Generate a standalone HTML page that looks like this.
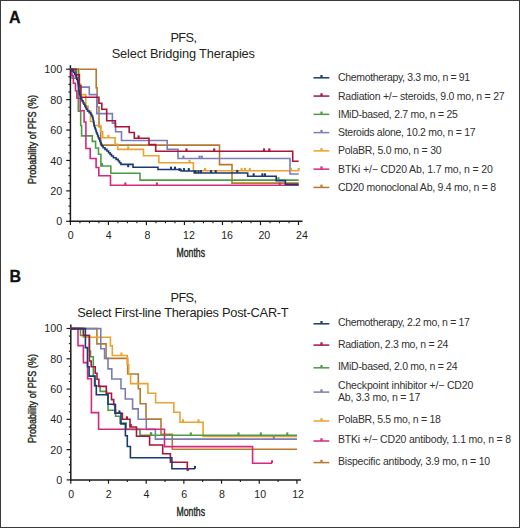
<!DOCTYPE html><html><head><meta charset="utf-8"><style>html,body{margin:0;padding:0;background:#fff;width:520px;height:528px;overflow:hidden}</style></head><body><svg width="520" height="528" viewBox="0 0 520 528" style="display:block;font-family:'Liberation Sans', sans-serif"><rect x="0.5" y="0.5" width="519" height="527" fill="#fff" stroke="#3a3a3a" stroke-width="1"/><text x="9.0" y="23.0" font-size="16" text-anchor="start" font-weight="bold" fill="#111" stroke="#111" stroke-width="0.3">A</text><text x="170.4" y="41.9" font-size="12.8" text-anchor="start" font-weight="normal" fill="#231f20" textLength="26.6" lengthAdjust="spacing" >PFS,</text><text x="111.7" y="57.7" font-size="12.8" text-anchor="start" font-weight="normal" fill="#231f20" textLength="143.3" lengthAdjust="spacing" >Select Bridging Therapies</text><text transform="translate(36.3,139.4) rotate(-90)" x="0" y="0" font-size="11.6" text-anchor="middle" fill="#231f20" textLength="89" lengthAdjust="spacingAndGlyphs" stroke="#231f20" stroke-width="0.4">Probability of PFS (%)</text><line x1="70.4" y1="65.2" x2="70.4" y2="222.0" stroke="#1a1a1a" stroke-width="1.5"/><line x1="69.7" y1="221.3" x2="302.5" y2="221.3" stroke="#1a1a1a" stroke-width="1.5"/><line x1="66.2" y1="221.30" x2="70.4" y2="221.30" stroke="#1a1a1a" stroke-width="1.2"/><text x="62.3" y="225.40" font-size="10.8" text-anchor="end" font-weight="normal" fill="#231f20" >0</text><line x1="68.4" y1="213.70" x2="70.4" y2="213.70" stroke="#1a1a1a" stroke-width="1.1"/><line x1="68.4" y1="206.09" x2="70.4" y2="206.09" stroke="#1a1a1a" stroke-width="1.1"/><line x1="68.4" y1="198.49" x2="70.4" y2="198.49" stroke="#1a1a1a" stroke-width="1.1"/><line x1="66.2" y1="190.88" x2="70.4" y2="190.88" stroke="#1a1a1a" stroke-width="1.2"/><text x="62.3" y="194.98" font-size="10.8" text-anchor="end" font-weight="normal" fill="#231f20" >20</text><line x1="68.4" y1="183.28" x2="70.4" y2="183.28" stroke="#1a1a1a" stroke-width="1.1"/><line x1="68.4" y1="175.67" x2="70.4" y2="175.67" stroke="#1a1a1a" stroke-width="1.1"/><line x1="68.4" y1="168.06" x2="70.4" y2="168.06" stroke="#1a1a1a" stroke-width="1.1"/><line x1="66.2" y1="160.46" x2="70.4" y2="160.46" stroke="#1a1a1a" stroke-width="1.2"/><text x="62.3" y="164.56" font-size="10.8" text-anchor="end" font-weight="normal" fill="#231f20" >40</text><line x1="68.4" y1="152.86" x2="70.4" y2="152.86" stroke="#1a1a1a" stroke-width="1.1"/><line x1="68.4" y1="145.25" x2="70.4" y2="145.25" stroke="#1a1a1a" stroke-width="1.1"/><line x1="68.4" y1="137.64" x2="70.4" y2="137.64" stroke="#1a1a1a" stroke-width="1.1"/><line x1="66.2" y1="130.04" x2="70.4" y2="130.04" stroke="#1a1a1a" stroke-width="1.2"/><text x="62.3" y="134.14" font-size="10.8" text-anchor="end" font-weight="normal" fill="#231f20" >60</text><line x1="68.4" y1="122.44" x2="70.4" y2="122.44" stroke="#1a1a1a" stroke-width="1.1"/><line x1="68.4" y1="114.83" x2="70.4" y2="114.83" stroke="#1a1a1a" stroke-width="1.1"/><line x1="68.4" y1="107.22" x2="70.4" y2="107.22" stroke="#1a1a1a" stroke-width="1.1"/><line x1="66.2" y1="99.62" x2="70.4" y2="99.62" stroke="#1a1a1a" stroke-width="1.2"/><text x="62.3" y="103.72" font-size="10.8" text-anchor="end" font-weight="normal" fill="#231f20" >80</text><line x1="68.4" y1="92.01" x2="70.4" y2="92.01" stroke="#1a1a1a" stroke-width="1.1"/><line x1="68.4" y1="84.41" x2="70.4" y2="84.41" stroke="#1a1a1a" stroke-width="1.1"/><line x1="68.4" y1="76.80" x2="70.4" y2="76.80" stroke="#1a1a1a" stroke-width="1.1"/><line x1="66.2" y1="69.20" x2="70.4" y2="69.20" stroke="#1a1a1a" stroke-width="1.2"/><text x="62.3" y="73.30" font-size="10.8" text-anchor="end" font-weight="normal" fill="#231f20" >100</text><line x1="70.40" y1="221.3" x2="70.40" y2="225.10000000000002" stroke="#1a1a1a" stroke-width="1.2"/><text x="70.80" y="239.10" font-size="10.6" text-anchor="middle" font-weight="normal" fill="#231f20" >0</text><line x1="79.90" y1="221.3" x2="79.90" y2="223.3" stroke="#1a1a1a" stroke-width="1.1"/><line x1="89.41" y1="221.3" x2="89.41" y2="223.3" stroke="#1a1a1a" stroke-width="1.1"/><line x1="98.91" y1="221.3" x2="98.91" y2="223.3" stroke="#1a1a1a" stroke-width="1.1"/><line x1="108.42" y1="221.3" x2="108.42" y2="225.10000000000002" stroke="#1a1a1a" stroke-width="1.2"/><text x="108.82" y="239.10" font-size="10.6" text-anchor="middle" font-weight="normal" fill="#231f20" >4</text><line x1="117.92" y1="221.3" x2="117.92" y2="223.3" stroke="#1a1a1a" stroke-width="1.1"/><line x1="127.43" y1="221.3" x2="127.43" y2="223.3" stroke="#1a1a1a" stroke-width="1.1"/><line x1="136.93" y1="221.3" x2="136.93" y2="223.3" stroke="#1a1a1a" stroke-width="1.1"/><line x1="146.43" y1="221.3" x2="146.43" y2="225.10000000000002" stroke="#1a1a1a" stroke-width="1.2"/><text x="147.33" y="239.10" font-size="10.6" text-anchor="middle" font-weight="normal" fill="#231f20" >8</text><line x1="155.94" y1="221.3" x2="155.94" y2="223.3" stroke="#1a1a1a" stroke-width="1.1"/><line x1="165.44" y1="221.3" x2="165.44" y2="223.3" stroke="#1a1a1a" stroke-width="1.1"/><line x1="174.95" y1="221.3" x2="174.95" y2="223.3" stroke="#1a1a1a" stroke-width="1.1"/><line x1="184.45" y1="221.3" x2="184.45" y2="225.10000000000002" stroke="#1a1a1a" stroke-width="1.2"/><text x="188.95" y="239.10" font-size="10.6" text-anchor="middle" font-weight="normal" fill="#231f20" >12</text><line x1="193.95" y1="221.3" x2="193.95" y2="223.3" stroke="#1a1a1a" stroke-width="1.1"/><line x1="203.46" y1="221.3" x2="203.46" y2="223.3" stroke="#1a1a1a" stroke-width="1.1"/><line x1="212.96" y1="221.3" x2="212.96" y2="223.3" stroke="#1a1a1a" stroke-width="1.1"/><line x1="222.47" y1="221.3" x2="222.47" y2="225.10000000000002" stroke="#1a1a1a" stroke-width="1.2"/><text x="227.07" y="239.10" font-size="10.6" text-anchor="middle" font-weight="normal" fill="#231f20" >16</text><line x1="231.97" y1="221.3" x2="231.97" y2="223.3" stroke="#1a1a1a" stroke-width="1.1"/><line x1="241.48" y1="221.3" x2="241.48" y2="223.3" stroke="#1a1a1a" stroke-width="1.1"/><line x1="250.98" y1="221.3" x2="250.98" y2="223.3" stroke="#1a1a1a" stroke-width="1.1"/><line x1="260.48" y1="221.3" x2="260.48" y2="225.10000000000002" stroke="#1a1a1a" stroke-width="1.2"/><text x="264.28" y="239.10" font-size="10.6" text-anchor="middle" font-weight="normal" fill="#231f20" >20</text><line x1="269.99" y1="221.3" x2="269.99" y2="223.3" stroke="#1a1a1a" stroke-width="1.1"/><line x1="279.49" y1="221.3" x2="279.49" y2="223.3" stroke="#1a1a1a" stroke-width="1.1"/><line x1="289.00" y1="221.3" x2="289.00" y2="223.3" stroke="#1a1a1a" stroke-width="1.1"/><line x1="298.50" y1="221.3" x2="298.50" y2="225.10000000000002" stroke="#1a1a1a" stroke-width="1.2"/><text x="301.90" y="239.10" font-size="10.6" text-anchor="middle" font-weight="normal" fill="#231f20" >24</text><text x="190.8" y="256.5" font-size="12" text-anchor="middle" fill="#231f20" textLength="28.5" lengthAdjust="spacingAndGlyphs" stroke="#231f20" stroke-width="0.4">Months</text><path d="M70.4 69.2H96.2V87.9H97.1V107H99V126.7H100.7V145.1H219.5V164.6H232V183.1H298.7" fill="none" stroke="#b57a30" stroke-width="1.6" stroke-linejoin="miter" stroke-linecap="butt"/><path d="M70.4 69.2H78.9V74.3H79.6V84H80.5V94.6H85.8V106H88V111H90.5V121.5H94V125.5H100.7V131.8H102.7V137.8H115.1V144.3H117.7V149.4H143.5V155.8H158.8V162.8H193.4V170.8H298.7" fill="none" stroke="#eba22e" stroke-width="1.6" stroke-linejoin="miter" stroke-linecap="butt"/><path d="M70.4 69.2H72V78.3H79.2V87.1H89.3V94.6H96.8V113.6H112.4V123.1H115.6V131.8H121.5V140.5H167.2V149.2H178V158.5H290V174H298.7" fill="none" stroke="#7b7db8" stroke-width="1.6" stroke-linejoin="miter" stroke-linecap="butt"/><path d="M70.4 69.2H78.3V111.3H80.7V125.5H81.6V135.9H92.3V141.4H95.6V148H98.5V154.2H100.9V166H110.8V173.2H140V180.1H298.7" fill="none" stroke="#4f9a45" stroke-width="1.6" stroke-linejoin="miter" stroke-linecap="butt"/><path d="M70.4 69.2H71.5V75.5H73.4V83.3H75.5V90.8H76.9V98.3H80.2V110.7H84.1V122H85.9V148.5H90.2V158.5H96.1V167.5H98.8V175.8H110.5V185.3H298.7" fill="none" stroke="#d42a7c" stroke-width="1.6" stroke-linejoin="miter" stroke-linecap="butt"/><path d="M70.4 69.2H76V74.7H79.2V85.6H80.9V97.2H98.9V103.2H101.8V109.2H106.7V120.8H115.3V126.8H129.2V132.5H134.3V138.3H149V144.6H155.7V151.3H292.7V161.2H298.7" fill="none" stroke="#a8153d" stroke-width="1.6" stroke-linejoin="miter" stroke-linecap="butt"/><path d="M70.4 69.2H72.1V70.9H73.8V72.5H74.8V74.2H75.6V75.9H76.2V77.6H76.8V79.2H77.5V80.9H77.9V82.6H78.2V84.2H78.4V85.9H78.7V87.6H78.9V89.2H79.1V90.9H79.3V92.6H79.4V94.3H79.9V95.9H80.5V97.6H81.1V99.3H82.0V100.9H83.0V102.6H83.9V104.3H84.8V105.9H85.6V107.6H86.4V109.3H87.5V111.0H89.2V112.6H90.8V114.3H91.7V116.0H92.6V117.6H93.0V119.3H93.3V121.0H93.6V122.6H93.9V124.3H94.2V126.0H94.7V127.7H95.3V129.3H95.9V131.0H96.4V132.7H97.1V134.3H97.7V136.0H98.4V137.7H99.1V139.3H99.8V141.0H100.5V142.7H101.2V144.3H101.9V146.0H103.1V147.7H105.0V149.4H106.9V151.0H108.6V152.7H110.1V154.4H111.5V156.0H113.4V157.7H116.1V159.4H118.2V161.0H119.5V162.7H120.9V164.4H122.5H133V167.2H158V169.5H181V171H194.2V173H247.7V176.2H276.2V180.6H285.4V184.4H298.7" fill="none" stroke="#1b3a72" stroke-width="1.6" stroke-linejoin="miter" stroke-linecap="butt"/><line x1="138.6" y1="138.3" x2="138.6" y2="135.40" stroke="#a8153d" stroke-width="2.1"/><line x1="186.5" y1="151.3" x2="186.5" y2="148.40" stroke="#a8153d" stroke-width="2.1"/><line x1="214.2" y1="151.3" x2="214.2" y2="148.40" stroke="#a8153d" stroke-width="2.1"/><line x1="264" y1="151.3" x2="264" y2="148.40" stroke="#a8153d" stroke-width="2.1"/><line x1="269.3" y1="151.3" x2="269.3" y2="148.40" stroke="#a8153d" stroke-width="2.1"/><line x1="183.4" y1="158.5" x2="183.4" y2="155.60" stroke="#7b7db8" stroke-width="2.1"/><line x1="199.5" y1="158.5" x2="199.5" y2="155.60" stroke="#7b7db8" stroke-width="2.1"/><line x1="201.8" y1="158.5" x2="201.8" y2="155.60" stroke="#7b7db8" stroke-width="2.1"/><line x1="108.4" y1="137.8" x2="108.4" y2="134.90" stroke="#eba22e" stroke-width="2.1"/><line x1="128.2" y1="149.4" x2="128.2" y2="146.50" stroke="#eba22e" stroke-width="2.1"/><line x1="189.5" y1="162.8" x2="189.5" y2="159.90" stroke="#eba22e" stroke-width="2.1"/><line x1="205" y1="170.8" x2="205" y2="167.90" stroke="#eba22e" stroke-width="2.1"/><line x1="241.6" y1="170.8" x2="241.6" y2="167.90" stroke="#eba22e" stroke-width="2.1"/><line x1="245" y1="170.8" x2="245" y2="167.90" stroke="#eba22e" stroke-width="2.1"/><line x1="249.8" y1="170.8" x2="249.8" y2="167.90" stroke="#eba22e" stroke-width="2.1"/><line x1="291" y1="170.8" x2="291" y2="167.90" stroke="#eba22e" stroke-width="2.1"/><line x1="298.7" y1="170.8" x2="298.7" y2="167.90" stroke="#eba22e" stroke-width="2.1"/><line x1="128.2" y1="167.2" x2="128.2" y2="164.30" stroke="#1b3a72" stroke-width="2.1"/><line x1="171" y1="169.5" x2="171" y2="166.60" stroke="#1b3a72" stroke-width="2.1"/><line x1="175" y1="169.5" x2="175" y2="166.60" stroke="#1b3a72" stroke-width="2.1"/><line x1="179.5" y1="171" x2="179.5" y2="168.10" stroke="#1b3a72" stroke-width="2.1"/><line x1="184" y1="171" x2="184" y2="168.10" stroke="#1b3a72" stroke-width="2.1"/><line x1="188.8" y1="171" x2="188.8" y2="168.10" stroke="#1b3a72" stroke-width="2.1"/><line x1="195.7" y1="173" x2="195.7" y2="170.10" stroke="#1b3a72" stroke-width="2.1"/><line x1="198.5" y1="173" x2="198.5" y2="170.10" stroke="#1b3a72" stroke-width="2.1"/><line x1="201" y1="173" x2="201" y2="170.10" stroke="#1b3a72" stroke-width="2.1"/><line x1="211" y1="173" x2="211" y2="170.10" stroke="#1b3a72" stroke-width="2.1"/><line x1="215.7" y1="173" x2="215.7" y2="170.10" stroke="#1b3a72" stroke-width="2.1"/><line x1="237.3" y1="172.8" x2="237.3" y2="169.90" stroke="#1b3a72" stroke-width="2.1"/><line x1="253.7" y1="176.2" x2="253.7" y2="173.30" stroke="#1b3a72" stroke-width="2.1"/><line x1="262.4" y1="176.2" x2="262.4" y2="173.30" stroke="#1b3a72" stroke-width="2.1"/><line x1="265" y1="176.2" x2="265" y2="173.30" stroke="#1b3a72" stroke-width="2.1"/><line x1="125.3" y1="185.3" x2="125.3" y2="182.40" stroke="#d42a7c" stroke-width="2.1"/><line x1="156.9" y1="185.3" x2="156.9" y2="182.40" stroke="#d42a7c" stroke-width="2.1"/><line x1="279.7" y1="185.3" x2="279.7" y2="182.40" stroke="#d42a7c" stroke-width="2.1"/><line x1="102.1" y1="166" x2="102.1" y2="163.10" stroke="#4f9a45" stroke-width="2.1"/><line x1="278.5" y1="180.1" x2="278.5" y2="177.20" stroke="#4f9a45" stroke-width="2.1"/><line x1="313.5" y1="77.80" x2="329.3" y2="77.80" stroke="#1b3a72" stroke-width="1.5"/><line x1="321.5" y1="77.80" x2="321.5" y2="75.00" stroke="#1b3a72" stroke-width="2.2"/><text x="338.0" y="81.30" font-size="10.5" text-anchor="start" font-weight="normal" fill="#303030" textLength="132.2" lengthAdjust="spacing" >Chemotherapy, 3.3 mo, n = 91</text><line x1="313.5" y1="96.07" x2="329.3" y2="96.07" stroke="#a8153d" stroke-width="1.5"/><line x1="321.5" y1="96.07" x2="321.5" y2="93.27" stroke="#a8153d" stroke-width="2.2"/><text x="338.0" y="99.57" font-size="10.5" text-anchor="start" font-weight="normal" fill="#303030" textLength="166.6" lengthAdjust="spacing" >Radiation +/− steroids, 9.0 mo, n = 27</text><line x1="313.5" y1="114.34" x2="329.3" y2="114.34" stroke="#4f9a45" stroke-width="1.5"/><line x1="321.5" y1="114.34" x2="321.5" y2="111.54" stroke="#4f9a45" stroke-width="2.2"/><text x="338.0" y="117.84" font-size="10.5" text-anchor="start" font-weight="normal" fill="#303030" textLength="119.9" lengthAdjust="spacing" >IMiD-based, 2.7 mo, n = 25</text><line x1="313.5" y1="132.61" x2="329.3" y2="132.61" stroke="#7b7db8" stroke-width="1.5"/><line x1="321.5" y1="132.61" x2="321.5" y2="129.81" stroke="#7b7db8" stroke-width="2.2"/><text x="338.0" y="136.11" font-size="10.5" text-anchor="start" font-weight="normal" fill="#303030" textLength="137.6" lengthAdjust="spacing" >Steroids alone, 10.2 mo, n = 17</text><line x1="313.5" y1="150.88" x2="329.3" y2="150.88" stroke="#eba22e" stroke-width="1.5"/><line x1="321.5" y1="150.88" x2="321.5" y2="148.08" stroke="#eba22e" stroke-width="2.2"/><text x="338.0" y="154.38" font-size="10.5" text-anchor="start" font-weight="normal" fill="#303030" textLength="103.6" lengthAdjust="spacing" >PolaBR, 5.0 mo, n = 30</text><line x1="313.5" y1="169.15" x2="329.3" y2="169.15" stroke="#d42a7c" stroke-width="1.5"/><line x1="321.5" y1="169.15" x2="321.5" y2="166.35" stroke="#d42a7c" stroke-width="2.2"/><text x="338.0" y="172.65" font-size="10.5" text-anchor="start" font-weight="normal" fill="#303030" textLength="154.9" lengthAdjust="spacing" >BTKi +/− CD20 Ab, 1.7 mo, n = 20</text><line x1="313.5" y1="187.42" x2="329.3" y2="187.42" stroke="#b57a30" stroke-width="1.5"/><line x1="321.5" y1="187.42" x2="321.5" y2="184.62" stroke="#b57a30" stroke-width="2.2"/><text x="338.0" y="190.92" font-size="10.5" text-anchor="start" font-weight="normal" fill="#303030" textLength="158.2" lengthAdjust="spacing" >CD20 monoclonal Ab, 9.4 mo, n = 8</text><text x="9.4" y="282.3" font-size="16" text-anchor="start" font-weight="bold" fill="#111" stroke="#111" stroke-width="0.3">B</text><text x="170.5" y="301.5" font-size="12.8" text-anchor="start" font-weight="normal" fill="#231f20" textLength="26.5" lengthAdjust="spacing" >PFS,</text><text x="77.3" y="316.7" font-size="12.8" text-anchor="start" font-weight="normal" fill="#231f20" textLength="211.4" lengthAdjust="spacing" >Select First-line Therapies Post-CAR-T</text><text transform="translate(36.3,398.6) rotate(-90)" x="0" y="0" font-size="11.6" text-anchor="middle" fill="#231f20" textLength="89" lengthAdjust="spacingAndGlyphs" stroke="#231f20" stroke-width="0.4">Probability of PFS (%)</text><line x1="70.8" y1="324.5" x2="70.8" y2="480.59999999999997" stroke="#1a1a1a" stroke-width="1.5"/><line x1="70.1" y1="479.9" x2="300.9" y2="479.9" stroke="#1a1a1a" stroke-width="1.5"/><line x1="66.6" y1="479.90" x2="70.8" y2="479.90" stroke="#1a1a1a" stroke-width="1.2"/><text x="62.3" y="483.80" font-size="10.8" text-anchor="end" font-weight="normal" fill="#231f20" >0</text><line x1="68.8" y1="472.33" x2="70.8" y2="472.33" stroke="#1a1a1a" stroke-width="1.1"/><line x1="68.8" y1="464.76" x2="70.8" y2="464.76" stroke="#1a1a1a" stroke-width="1.1"/><line x1="68.8" y1="457.19" x2="70.8" y2="457.19" stroke="#1a1a1a" stroke-width="1.1"/><line x1="66.6" y1="449.62" x2="70.8" y2="449.62" stroke="#1a1a1a" stroke-width="1.2"/><text x="62.3" y="453.52" font-size="10.8" text-anchor="end" font-weight="normal" fill="#231f20" >20</text><line x1="68.8" y1="442.05" x2="70.8" y2="442.05" stroke="#1a1a1a" stroke-width="1.1"/><line x1="68.8" y1="434.48" x2="70.8" y2="434.48" stroke="#1a1a1a" stroke-width="1.1"/><line x1="68.8" y1="426.91" x2="70.8" y2="426.91" stroke="#1a1a1a" stroke-width="1.1"/><line x1="66.6" y1="419.34" x2="70.8" y2="419.34" stroke="#1a1a1a" stroke-width="1.2"/><text x="62.3" y="423.24" font-size="10.8" text-anchor="end" font-weight="normal" fill="#231f20" >40</text><line x1="68.8" y1="411.77" x2="70.8" y2="411.77" stroke="#1a1a1a" stroke-width="1.1"/><line x1="68.8" y1="404.20" x2="70.8" y2="404.20" stroke="#1a1a1a" stroke-width="1.1"/><line x1="68.8" y1="396.63" x2="70.8" y2="396.63" stroke="#1a1a1a" stroke-width="1.1"/><line x1="66.6" y1="389.06" x2="70.8" y2="389.06" stroke="#1a1a1a" stroke-width="1.2"/><text x="62.3" y="392.96" font-size="10.8" text-anchor="end" font-weight="normal" fill="#231f20" >60</text><line x1="68.8" y1="381.49" x2="70.8" y2="381.49" stroke="#1a1a1a" stroke-width="1.1"/><line x1="68.8" y1="373.92" x2="70.8" y2="373.92" stroke="#1a1a1a" stroke-width="1.1"/><line x1="68.8" y1="366.35" x2="70.8" y2="366.35" stroke="#1a1a1a" stroke-width="1.1"/><line x1="66.6" y1="358.78" x2="70.8" y2="358.78" stroke="#1a1a1a" stroke-width="1.2"/><text x="62.3" y="362.68" font-size="10.8" text-anchor="end" font-weight="normal" fill="#231f20" >80</text><line x1="68.8" y1="351.21" x2="70.8" y2="351.21" stroke="#1a1a1a" stroke-width="1.1"/><line x1="68.8" y1="343.64" x2="70.8" y2="343.64" stroke="#1a1a1a" stroke-width="1.1"/><line x1="68.8" y1="336.07" x2="70.8" y2="336.07" stroke="#1a1a1a" stroke-width="1.1"/><line x1="66.6" y1="328.50" x2="70.8" y2="328.50" stroke="#1a1a1a" stroke-width="1.2"/><text x="62.3" y="332.40" font-size="10.8" text-anchor="end" font-weight="normal" fill="#231f20" >100</text><line x1="70.80" y1="479.9" x2="70.80" y2="483.7" stroke="#1a1a1a" stroke-width="1.2"/><text x="71.10" y="497.70" font-size="10.6" text-anchor="middle" font-weight="normal" fill="#231f20" >0</text><line x1="89.64" y1="479.9" x2="89.64" y2="481.9" stroke="#1a1a1a" stroke-width="1.1"/><line x1="108.48" y1="479.9" x2="108.48" y2="483.7" stroke="#1a1a1a" stroke-width="1.2"/><text x="108.78" y="497.70" font-size="10.6" text-anchor="middle" font-weight="normal" fill="#231f20" >2</text><line x1="127.32" y1="479.9" x2="127.32" y2="481.9" stroke="#1a1a1a" stroke-width="1.1"/><line x1="146.17" y1="479.9" x2="146.17" y2="483.7" stroke="#1a1a1a" stroke-width="1.2"/><text x="146.47" y="497.70" font-size="10.6" text-anchor="middle" font-weight="normal" fill="#231f20" >4</text><line x1="165.01" y1="479.9" x2="165.01" y2="481.9" stroke="#1a1a1a" stroke-width="1.1"/><line x1="183.85" y1="479.9" x2="183.85" y2="483.7" stroke="#1a1a1a" stroke-width="1.2"/><text x="184.15" y="497.70" font-size="10.6" text-anchor="middle" font-weight="normal" fill="#231f20" >6</text><line x1="202.69" y1="479.9" x2="202.69" y2="481.9" stroke="#1a1a1a" stroke-width="1.1"/><line x1="221.53" y1="479.9" x2="221.53" y2="483.7" stroke="#1a1a1a" stroke-width="1.2"/><text x="221.83" y="497.70" font-size="10.6" text-anchor="middle" font-weight="normal" fill="#231f20" >8</text><line x1="240.37" y1="479.9" x2="240.37" y2="481.9" stroke="#1a1a1a" stroke-width="1.1"/><line x1="259.22" y1="479.9" x2="259.22" y2="483.7" stroke="#1a1a1a" stroke-width="1.2"/><text x="260.22" y="497.70" font-size="10.6" text-anchor="middle" font-weight="normal" fill="#231f20" >10</text><line x1="278.06" y1="479.9" x2="278.06" y2="481.9" stroke="#1a1a1a" stroke-width="1.1"/><line x1="296.90" y1="479.9" x2="296.90" y2="483.7" stroke="#1a1a1a" stroke-width="1.2"/><text x="298.10" y="497.70" font-size="10.6" text-anchor="middle" font-weight="normal" fill="#231f20" >12</text><text x="190.8" y="515.7" font-size="12" text-anchor="middle" fill="#231f20" textLength="28.5" lengthAdjust="spacingAndGlyphs" stroke="#231f20" stroke-width="0.4">Months</text><path d="M70.8 328.6H96.9V343.9H106.1V358.4H127.7V374H138.3V388.8H140.2V403.8H146V419.1H161V434.4H172.3V449.3H297" fill="none" stroke="#b57a30" stroke-width="1.6" stroke-linejoin="miter" stroke-linecap="butt"/><path d="M70.8 328.6H83.3V337.2H110.4V345.9H112.3V355.5H127.2V364.8H128.7V374H130.6V383.6H147.9V393.2H155.6V402.8H173.8V412.3H180V422.2H203.1V436.4H297" fill="none" stroke="#eba22e" stroke-width="1.6" stroke-linejoin="miter" stroke-linecap="butt"/><path d="M70.8 328.6H100.8V348.8H104.6V358.4H108V368.9H111.8V379H121V388.8H125.3V399H132.6V408.9H138.2V419.2H146.3V429.4H155.4V439.1H297" fill="none" stroke="#7b7db8" stroke-width="1.6" stroke-linejoin="miter" stroke-linecap="butt"/><path d="M70.8 328.6H80.5V335.5H89.4V351H90.5V356.8H93.3V375.8H94.5V386H100.1V391.4H106.6V394.8H108V410.3H115.6V416.2H120.1V423.1H126.2V429.4H140V435.3H297" fill="none" stroke="#4f9a45" stroke-width="1.6" stroke-linejoin="miter" stroke-linecap="butt"/><path d="M70.8 328.6H78V345.6H83.4V362.6H87.6V378.8H91.4V412.6H98.6V429.3H164.5V446.6H252.6V463.2H272" fill="none" stroke="#d42a7c" stroke-width="1.6" stroke-linejoin="miter" stroke-linecap="butt"/><path d="M70.8 328.6H83.4V335.5H89.4V361H91.2V366.8H95.2V373.3H97V379.2H98.9V386.4H106.3V393.3H111.5V399.6H113.7V404.8H115.5V413.2H122.4V419.2H130V427H136.5V436.2H149.6V445H162.7V453.8H170.4V462.3H187.3V470.8" fill="none" stroke="#a8153d" stroke-width="1.6" stroke-linejoin="miter" stroke-linecap="butt"/><path d="M70.8 328.6H85.4V347.6H87.5V366.7H89.1V376.1H95V385.5H96.3V394.8H108V404.2H115V413.3H121V423.9H125.4V435.8H127.3V446.5H130.4V457.7H171.9V468.8H195" fill="none" stroke="#1b3a72" stroke-width="1.6" stroke-linejoin="miter" stroke-linecap="butt"/><line x1="121.4" y1="355.5" x2="121.4" y2="352.60" stroke="#eba22e" stroke-width="2.1"/><line x1="183" y1="422.2" x2="183" y2="419.30" stroke="#eba22e" stroke-width="2.1"/><line x1="198.5" y1="422.2" x2="198.5" y2="419.30" stroke="#eba22e" stroke-width="2.1"/><line x1="150.8" y1="435.3" x2="150.8" y2="432.40" stroke="#4f9a45" stroke-width="2.1"/><line x1="151.2" y1="435.3" x2="151.2" y2="432.40" stroke="#4f9a45" stroke-width="2.1"/><line x1="190.8" y1="435.3" x2="190.8" y2="432.40" stroke="#4f9a45" stroke-width="2.1"/><line x1="238.5" y1="435.3" x2="238.5" y2="432.40" stroke="#4f9a45" stroke-width="2.1"/><line x1="260.8" y1="435.3" x2="260.8" y2="432.40" stroke="#4f9a45" stroke-width="2.1"/><line x1="287.3" y1="435.3" x2="287.3" y2="432.40" stroke="#4f9a45" stroke-width="2.1"/><line x1="273.8" y1="439.1" x2="273.8" y2="436.20" stroke="#7b7db8" stroke-width="2.1"/><line x1="126.9" y1="419.2" x2="126.9" y2="416.30" stroke="#a8153d" stroke-width="2.1"/><line x1="130.8" y1="427" x2="130.8" y2="424.10" stroke="#a8153d" stroke-width="2.1"/><line x1="188" y1="470.8" x2="188" y2="467.90" stroke="#a8153d" stroke-width="2.1"/><line x1="119.4" y1="413.3" x2="119.4" y2="410.40" stroke="#1b3a72" stroke-width="2.1"/><line x1="195" y1="468.8" x2="195" y2="465.90" stroke="#1b3a72" stroke-width="2.1"/><line x1="272" y1="463.2" x2="272" y2="460.30" stroke="#d42a7c" stroke-width="2.1"/><line x1="313.5" y1="323.80" x2="329.3" y2="323.80" stroke="#1b3a72" stroke-width="1.5"/><line x1="321.5" y1="323.80" x2="321.5" y2="321.00" stroke="#1b3a72" stroke-width="2.2"/><text x="338.0" y="326.40" font-size="10.5" text-anchor="start" font-weight="normal" fill="#303030" textLength="131.8" lengthAdjust="spacing" >Chemotherapy, 2.2 mo, n = 17</text><line x1="313.5" y1="345.10" x2="329.3" y2="345.10" stroke="#a8153d" stroke-width="1.5"/><line x1="321.5" y1="345.10" x2="321.5" y2="342.30" stroke="#a8153d" stroke-width="2.2"/><text x="338.0" y="347.70" font-size="10.5" text-anchor="start" font-weight="normal" fill="#303030" textLength="110.3" lengthAdjust="spacing" >Radiation, 2.3 mo, n = 24</text><line x1="313.5" y1="367.80" x2="329.3" y2="367.80" stroke="#4f9a45" stroke-width="1.5"/><line x1="321.5" y1="367.80" x2="321.5" y2="365.00" stroke="#4f9a45" stroke-width="2.2"/><text x="338.0" y="369.80" font-size="10.5" text-anchor="start" font-weight="normal" fill="#303030" textLength="119.6" lengthAdjust="spacing" >IMiD-based, 2.0 mo, n = 24</text><line x1="313.5" y1="392.10" x2="329.3" y2="392.10" stroke="#7b7db8" stroke-width="1.5"/><line x1="321.5" y1="392.10" x2="321.5" y2="389.30" stroke="#7b7db8" stroke-width="2.2"/><text x="338.0" y="388.90" font-size="10.5" text-anchor="start" font-weight="normal" fill="#303030" textLength="135.3" lengthAdjust="spacing" >Checkpoint inhibitor +/− CD20</text><text x="338.0" y="401.00" font-size="10.5" text-anchor="start" font-weight="normal" fill="#303030" textLength="82.3" lengthAdjust="spacing" >Ab, 3.3 mo, n = 17</text><line x1="313.5" y1="421.00" x2="329.3" y2="421.00" stroke="#eba22e" stroke-width="1.5"/><line x1="321.5" y1="421.00" x2="321.5" y2="418.20" stroke="#eba22e" stroke-width="2.2"/><text x="338.0" y="423.20" font-size="10.5" text-anchor="start" font-weight="normal" fill="#303030" textLength="102.9" lengthAdjust="spacing" >PolaBR, 5.5 mo, n = 18</text><line x1="313.5" y1="441.00" x2="329.3" y2="441.00" stroke="#d42a7c" stroke-width="1.5"/><line x1="321.5" y1="441.00" x2="321.5" y2="438.20" stroke="#d42a7c" stroke-width="2.2"/><text x="338.0" y="443.20" font-size="10.5" text-anchor="start" font-weight="normal" fill="#303030" textLength="173.1" lengthAdjust="spacing" >BTKi +/− CD20 antibody, 1.1 mo, n = 8</text><line x1="313.5" y1="462.60" x2="329.3" y2="462.60" stroke="#b57a30" stroke-width="1.5"/><line x1="321.5" y1="462.60" x2="321.5" y2="459.80" stroke="#b57a30" stroke-width="2.2"/><text x="338.0" y="464.50" font-size="10.5" text-anchor="start" font-weight="normal" fill="#303030" textLength="152.1" lengthAdjust="spacing" >Bispecific antibody, 3.9 mo, n = 10</text></svg></body></html>
